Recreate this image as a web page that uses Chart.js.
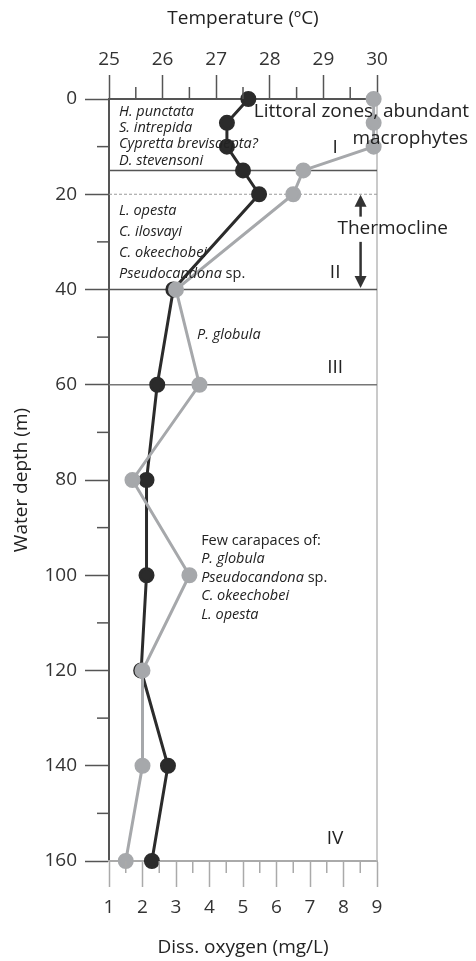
<!DOCTYPE html>
<html>
<head>
<meta charset="utf-8">
<script src="https://cdn.jsdelivr.net/npm/chart.js@4/dist/chart.umd.min.js"></script>
<style>
  html, body { margin: 0; padding: 0; background: #fff; }
</style>
</head>
<body>
<canvas id="depthChart" width="476" height="961"></canvas>
<script>
/* ===== DATA ===== */
const depths = [0, 5, 10, 15, 20, 40, 60, 80, 100, 120, 140, 160];
const temperature = [27.6, 27.2, 27.2, 27.5, 27.8, 26.2, 25.9, 25.7, 25.7, 25.6, 26.1, 25.8];
const oxygen = [8.9, 8.9, 8.9, 6.8, 6.5, 3.0, 3.7, 1.7, 3.4, 2.0, 2.0, 1.5];

const tempTicks = [25, 26, 27, 28, 29, 30];
const oxygenTicks = [1, 2, 3, 4, 5, 6, 7, 8, 9];
const depthTicks = [0, 20, 40, 60, 80, 100, 120, 140, 160];

const zoneLines = [15, 40, 60];
const thermoclineTop = 20;
const zoneNames = ["I", "II", "III", "IV"];
const speciesI = ["H. punctata", "S. intrepida", "Cypretta brevisaepta?", "D. stevensoni"];
const speciesII = ["L. opesta", "C. ilosvayi", "C. okeechobei", "Pseudocandona sp."];
const speciesIII = ["P. globula"];
const speciesIV = ["P. globula", "Pseudocandona sp.", "C. okeechobei", "L. opesta"];

const FONT = "'Open Sans', 'Noto Sans', sans-serif";
const DARK = "#2b2b2b";
const GREY = "#a6a8ab";

/* ===== HELPERS ===== */
function seg(ctx, x1, y1, x2, y2) {
  ctx.beginPath();
  ctx.moveTo(x1, y1);
  ctx.lineTo(x2, y2);
  ctx.stroke();
}

// species names are italic, a trailing " sp." is upright
function speciesLine(ctx, text, x, y, size) {
  let main = text, tail = "";
  if (text.endsWith(" sp.")) { main = text.slice(0, -4); tail = " sp."; }
  ctx.font = `italic ${size}px ${FONT}`;
  ctx.fillText(main, x, y);
  if (tail) {
    const w = ctx.measureText(main).width;
    ctx.font = `${size}px ${FONT}`;
    ctx.fillText(tail, x + w, y);
  }
}

function arrow(ctx, x, yFrom, yTo) {
  const dir = yTo > yFrom ? 1 : -1;
  ctx.lineWidth = 2.5;
  seg(ctx, x, yFrom, x, yTo - dir * 10);
  ctx.beginPath();
  ctx.moveTo(x, yTo);
  ctx.lineTo(x - 6, yTo - dir * 12);
  ctx.lineTo(x + 6, yTo - dir * 12);
  ctx.closePath();
  ctx.fill();
}

/* ===== OVERLAY PLUGIN ===== */
const overlay = {
  id: "overlay",
  beforeDatasetsDraw(chart) {
    const { ctx, chartArea: a, scales: { y } } = chart;
    ctx.save();
    ctx.strokeStyle = "#b8b8b8";
    ctx.lineWidth = 1.5;
    seg(ctx, a.right, a.top, a.right, a.bottom);

    zoneLines.forEach((d, i) => {
      ctx.strokeStyle = i < 2 ? "#555" : "#777";
      ctx.lineWidth = 1.5;
      const py = y.getPixelForValue(d);
      seg(ctx, a.left, py, a.right, py);
    });

    ctx.strokeStyle = "#9a9a9a";
    ctx.lineWidth = 1;
    ctx.setLineDash([3, 2]);
    const ty = y.getPixelForValue(thermoclineTop);
    seg(ctx, a.left, ty, a.right, ty);
    ctx.restore();
  },
  afterDatasetsDraw(chart) {
    const { ctx, scales: { y, xBottom } } = chart;
    const X = v => xBottom.getPixelForValue(v);
    const Y = v => y.getPixelForValue(v);
    ctx.save();
    ctx.fillStyle = "#222";
    ctx.textBaseline = "middle";
    ctx.textAlign = "left";

    speciesI.forEach((s, i) => speciesLine(ctx, s, X(1.3), Y(2.7 + i * 3.4), 14.5));
    speciesII.forEach((s, i) => speciesLine(ctx, s, X(1.3), Y(23.5 + i * 4.4), 14.5));
    speciesIII.forEach((s, i) => speciesLine(ctx, s, X(3.63), Y(49.5 + i * 4), 14.5));

    ctx.font = `14.5px ${FONT}`;
    ctx.fillText("Few carapaces of:", X(3.75), Y(92.7));
    speciesIV.forEach((s, i) => speciesLine(ctx, s, X(3.75), Y(96.6 + i * 3.9), 14.5));

    ctx.font = `19px ${FONT}`;
    ctx.textAlign = "center";
    const zoneY = [10.2, 36.5, 56.4, 155.2];
    zoneNames.forEach((z, i) => ctx.fillText(z, X(7.75), Y(zoneY[i])));

    ctx.textAlign = "right";
    ctx.fillText("Littoral zones, abundant", X(11.75), Y(2.7));
    ctx.fillText("macrophytes", X(11.72), Y(8.4));

    ctx.textAlign = "center";
    ctx.fillText("Thermocline", X(9.47), Y(27.2));

    ctx.fillStyle = "#333";
    ctx.strokeStyle = "#333";
    arrow(ctx, X(8.51), Y(24.7), Y(20.1));
    arrow(ctx, X(8.51), Y(30.0), Y(39.7));
    ctx.restore();
  },
  afterDraw(chart) {
    const { ctx, chartArea: a, scales: { y, xTop, xBottom } } = chart;
    ctx.save();
    ctx.lineWidth = 1.5;
    ctx.strokeStyle = "#555";
    for (let d = 10; d < 160; d += 20) {
      const py = y.getPixelForValue(d);
      seg(ctx, a.left - 12, py, a.left, py);
    }
    for (let t = 25.5; t < 30; t += 1) {
      const px = xTop.getPixelForValue(t);
      seg(ctx, px, a.top - 12, px, a.top);
    }
    ctx.strokeStyle = "#aaa";
    for (let o = 1.5; o < 9; o += 1) {
      const px = xBottom.getPixelForValue(o);
      seg(ctx, px, a.bottom, px, a.bottom + 12);
    }
    ctx.restore();
  }
};

/* ===== CHART ===== */
const tickFont = { family: FONT, size: 19 };
const titleFont = { family: FONT, size: 19 };

new Chart(document.getElementById("depthChart"), {
  type: "scatter",
  data: {
    datasets: [
      {
        label: "Diss. oxygen",
        data: depths.map((d, i) => ({ x: oxygen[i], y: d })),
        xAxisID: "xBottom",
        yAxisID: "y",
        showLine: true,
        borderColor: GREY,
        backgroundColor: GREY,
        borderWidth: 3,
        pointRadius: 6.5,
        order: 0,
        clip: false,
      },
      {
        label: "Temperature",
        data: depths.map((d, i) => ({ x: temperature[i], y: d })),
        xAxisID: "xTop",
        yAxisID: "y",
        showLine: true,
        borderColor: DARK,
        backgroundColor: DARK,
        borderWidth: 3,
        pointRadius: 6.5,
        order: 1,
        clip: false,
      },
    ],
  },
  options: {
    responsive: false,
    animation: false,
    events: [],
    layout: { padding: { left: 0, top: 0, bottom: 0, right: 99 } },
    plugins: { legend: { display: false }, tooltip: { enabled: false } },
    scales: {
      y: {
        type: "linear",
        position: "left",
        reverse: true,
        min: 0,
        max: 160,
        afterBuildTicks: s => { s.ticks = depthTicks.map(v => ({ value: v })); },
        ticks: { color: "#333", font: tickFont, padding: 8 },
        grid: { drawOnChartArea: false, tickLength: 24, tickColor: "#555", tickWidth: 1.5 },
        border: { color: "#555", width: 2 },
        title: { display: true, text: "Water depth (m)", color: "#222", font: titleFont, padding: { top: 10 } },
        afterFit: s => { s.width = 109; },
      },
      xTop: {
        type: "linear",
        position: "top",
        min: 25,
        max: 30,
        afterBuildTicks: s => { s.ticks = tempTicks.map(v => ({ value: v })); },
        ticks: { color: "#333", font: tickFont, padding: 4, maxRotation: 0 },
        grid: { drawOnChartArea: false, tickLength: 24, tickColor: "#555", tickWidth: 1.5 },
        border: { color: "#555", width: 2 },
        title: { display: true, text: "Temperature (ºC)", color: "#222", font: titleFont, padding: { top: 7 } },
        afterFit: s => { s.height = 99; },
      },
      xBottom: {
        type: "linear",
        position: "bottom",
        min: 1,
        max: 9,
        afterBuildTicks: s => { s.ticks = oxygenTicks.map(v => ({ value: v })); },
        ticks: { color: "#333", font: tickFont, padding: 9, maxRotation: 0 },
        grid: { drawOnChartArea: false, tickLength: 26, tickColor: "#aaa", tickWidth: 1.5 },
        border: { color: "#aaa", width: 2 },
        title: { display: true, text: "Diss. oxygen (mg/L)", color: "#222", font: titleFont, padding: { bottom: 2 } },
        afterFit: s => { s.height = 100; },
      },
    },
  },
  plugins: [overlay],
});
</script>
</body>
</html>
